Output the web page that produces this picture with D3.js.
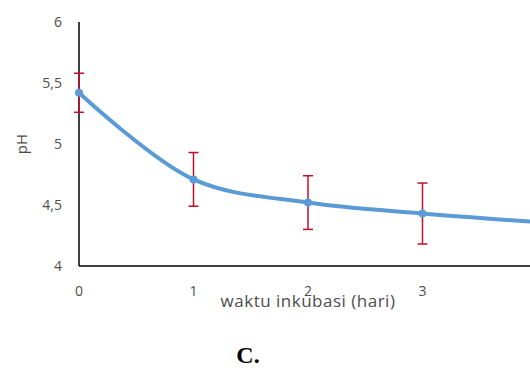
<!DOCTYPE html>
<html>
<head>
<meta charset="utf-8">
<script src="https://cdn.jsdelivr.net/npm/d3@7"></script>
<style>
  body { margin: 0; background: #fff; }
  svg text { font-family: "Open Sans", Lato, sans-serif; }
</style>
</head>
<body>
<div id="chart"></div>
<script>
// data
let days = [0, 1, 2, 3, 4];
let phMean = [5.42, 4.71, 4.52, 4.43, 4.36];
let phErr = [0.16, 0.22, 0.22, 0.25, 0.22];
let yTicks = [4, 4.5, 5, 5.5, 6];
let xTicks = [0, 1, 2, 3, 4];

let svg = d3.select("#chart").append("svg")
  .attr("width", 530)
  .attr("height", 368);

let x = d3.scaleLinear().domain([0, 4]).range([79, 537]);
let y = d3.scaleLinear().domain([4, 6]).range([266, 22]);

let grey = "#4d4d4d";

// y axis line
svg.append("line")
  .attr("x1", x(0)).attr("x2", x(0))
  .attr("y1", y(6)).attr("y2", y(4))
  .style("stroke", "black").style("stroke-width", 1.5);

// x axis line
svg.append("line")
  .attr("x1", x(0)).attr("x2", 530)
  .attr("y1", y(4)).attr("y2", y(4))
  .style("stroke", "black").style("stroke-width", 1.5);

// tick labels
svg.selectAll(".ytick")
  .data(yTicks)
  .enter()
  .append("text")
  .attr("x", 62)
  .attr("y", d => y(d))
  .attr("dy", "0.35em")
  .attr("text-anchor", "end")
  .style("font-size", "14px")
  .style("fill", grey)
  .text(d => String(d).replace(".", ","));

svg.selectAll(".xtick")
  .data(xTicks)
  .enter()
  .append("text")
  .attr("x", d => x(d))
  .attr("y", 296)
  .attr("text-anchor", "middle")
  .style("font-size", "14px")
  .style("fill", grey)
  .text(d => d);

// axis titles
svg.append("text")
  .attr("x", 308).attr("y", 307)
  .attr("text-anchor", "middle")
  .style("font-size", "17px")
  .style("letter-spacing", "0.5px")
  .style("fill", grey)
  .text("waktu inkubasi (hari)");

svg.append("text")
  .attr("transform", "translate(27,144) rotate(-90)")
  .attr("text-anchor", "middle")
  .style("font-size", "15px")
  .style("fill", grey)
  .text("pH");

// smoothed line
let line = d3.line()
  .x((d, i) => x(days[i]))
  .y(d => y(d))
  .curve(d3.curveCatmullRom.alpha(0.5));

svg.append("path")
  .datum(phMean)
  .attr("d", line)
  .style("fill", "none")
  .style("stroke", "#5b9bd5")
  .style("stroke-width", 4);

// error bars
let bars = svg.selectAll(".err")
  .data(days)
  .enter()
  .append("g")
  .style("stroke", "#c0102a")
  .style("stroke-width", 1.5);

bars.append("line")
  .attr("x1", d => x(d)).attr("x2", d => x(d))
  .attr("y1", (d, i) => y(phMean[i] + phErr[i]))
  .attr("y2", (d, i) => y(phMean[i] - phErr[i]));

bars.append("line")
  .attr("x1", d => x(d) - 5).attr("x2", d => x(d) + 5)
  .attr("y1", (d, i) => y(phMean[i] + phErr[i]))
  .attr("y2", (d, i) => y(phMean[i] + phErr[i]));

bars.append("line")
  .attr("x1", d => x(d) - 5).attr("x2", d => x(d) + 5)
  .attr("y1", (d, i) => y(phMean[i] - phErr[i]))
  .attr("y2", (d, i) => y(phMean[i] - phErr[i]));

// markers
svg.selectAll("circle")
  .data(phMean)
  .enter()
  .append("circle")
  .attr("cx", (d, i) => x(days[i]))
  .attr("cy", d => y(d))
  .attr("r", 4)
  .style("fill", "#5b9bd5");

// panel letter
svg.append("text")
  .attr("x", 248).attr("y", 363)
  .attr("text-anchor", "middle")
  .style("font-family", "'Liberation Serif', serif")
  .style("font-weight", "bold")
  .style("font-size", "24px")
  .style("fill", "black")
  .text("C.");
</script>
</body>
</html>
